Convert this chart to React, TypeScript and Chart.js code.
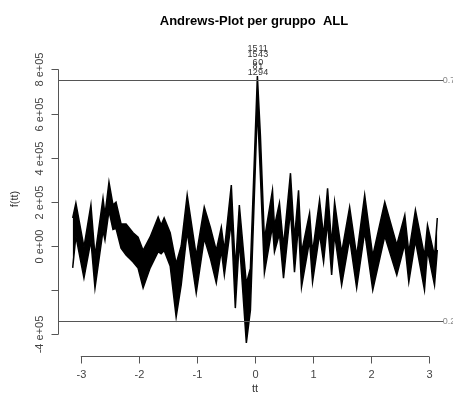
import React, { useEffect, useRef } from "react";
import { Chart, registerables } from "chart.js";

Chart.register(...registerables);

// Curve band (envelope of all Andrews curves)
const tValues = [
  -3.14, -3.085, -2.946, -2.826, -2.756, -2.618, -2.584, -2.515, -2.446, -2.394,
  -2.307, -2.221, -2.1, -2.014, -1.927, -1.807, -1.668, -1.617, -1.565, -1.461,
  -1.358, -1.271, -1.168, -1.012, -0.874, -0.77, -0.667, -0.58, -0.528, -0.408,
  -0.339, -0.27, -0.149, -0.079, 0.041, 0.093, 0.162, 0.301, 0.335, 0.421,
  0.491, 0.611, 0.68, 0.75, 0.801, 0.94, 0.991, 1.112, 1.181, 1.25,
  1.32, 1.371, 1.492, 1.63, 1.751, 1.889, 2.028, 2.235, 2.442, 2.58,
  2.649, 2.763, 2.919, 2.971, 3.092, 3.14,
];
const upperValues = [
  127000, 195000, -5000, 186000, -45000, 217000, 140000, 290000, 186000, 199000,
  100000, 100000, 60000, 40000, -20000, 40000, 131000, 95000, 127000, 60000,
  -80000, 0, 231000, -45000, 176000, 85000, -20000, 86000, -20000, 276000,
  -105000, 186000, -170000, -100000, 770000, 500000, 30000, 253000, 90000, 195000,
  0, 330000, 30000, 253000, -30000, 149000, -30000, 208000, 45000, 262000,
  5000, 199000, -30000, 177000, -45000, 231000, -45000, 199000, 5000, 140000,
  -30000, 163000, -45000, 95000, -45000, 127000,
];
const lowerValues = [
  -99000, 45000, -145000, 25000, -190000, 70000, 27000, 160000, 75000, 80000,
  -10000, -41000, -72000, -100000, -190000, -100000, -25000, -35000, -20000, -90000,
  -321000, -176000, 65000, -213000, 35000, -55000, -167000, -20000, -131000, 110000,
  -281000, 25000, -439000, -290000, 630000, 320000, -122000, 90000, -27000, 55000,
  -145000, 160000, -118000, 100000, -186000, 25000, -163000, 55000, -72000, 110000,
  -131000, 55000, -177000, 35000, -190000, 65000, -199000, 45000, -131000, 10000,
  -163000, 25000, -199000, -20000, -177000, -18000,
];

// Axes
const xTicks = [-3, -2, -1, 0, 1, 2, 3];
const yTicks = [800000, 600000, 400000, 200000, 0, -200000, -400000];
const yTickLabels = ["8 e+05", "6 e+05", "4 e+05", "2 e+05", "0 e+00", "", "-4 e+05"];
const xRange = [-3.393, 3.393];
const yRange = [-498000, 820000];

// Reference lines (quantiles)
const refValues = [751000, -339000];
const refLabels = ["0.75", "0.25"];

// Observation labels stacked at the peak
const peakLabels = ["15", "11", "15", "43", "6", "0", "8", "1", "12", "94"];
const peakLabelT = [-0.045, 0.14, -0.045, 0.14, 0.0, 0.1, 0.0, 0.1, -0.04, 0.14];
const peakLabelValues = [896000, 896000, 869000, 869000, 833000, 833000, 815000, 815000, 787000, 787000];

const TITLE = "Andrews-Plot per gruppo  ALL";
const X_LABEL = "tt";
const Y_LABEL = "f(tt)";

const FONT = "'Liberation Sans', Arial, Helvetica, sans-serif";

export default function App() {
  const ref = useRef<HTMLCanvasElement | null>(null);

  useEffect(() => {
    if (!ref.current) return;
    const rPlot = {
      id: "rPlot",
      afterDraw(chart: any) {
        const ctx = chart.ctx as CanvasRenderingContext2D;
        const xs = chart.scales.x;
        const ys = chart.scales.y;
        const area = chart.chartArea;
        ctx.save();
        // reference lines
        ctx.strokeStyle = "#555";
        ctx.lineWidth = 1;
        refValues.forEach((v, i) => {
          const y = Math.round(ys.getPixelForValue(v)) + 0.5;
          const xEnd = xs.getPixelForValue(3.25);
          ctx.beginPath();
          ctx.moveTo(area.left, y);
          ctx.lineTo(xEnd, y);
          ctx.stroke();
          ctx.fillStyle = "#888";
          ctx.font = `9px ${FONT}`;
          ctx.textAlign = "left";
          ctx.textBaseline = "middle";
          ctx.fillText(refLabels[i], xEnd - 1, y);
        });
        // peak labels
        ctx.fillStyle = "#333";
        ctx.font = `9px ${FONT}`;
        ctx.textAlign = "center";
        ctx.textBaseline = "middle";
        peakLabels.forEach((s, i) => {
          ctx.fillText(s, xs.getPixelForValue(peakLabelT[i]), ys.getPixelForValue(peakLabelValues[i]));
        });
        // x axis
        ctx.strokeStyle = "#555";
        const yAxis = Math.round(area.bottom) + 0.5;
        ctx.beginPath();
        ctx.moveTo(xs.getPixelForValue(xTicks[0]), yAxis);
        ctx.lineTo(xs.getPixelForValue(xTicks[xTicks.length - 1]), yAxis);
        ctx.stroke();
        ctx.fillStyle = "#444";
        ctx.font = `11px ${FONT}`;
        ctx.textAlign = "center";
        ctx.textBaseline = "middle";
        xTicks.forEach((t) => {
          const x = Math.round(xs.getPixelForValue(t)) + 0.5;
          ctx.beginPath();
          ctx.moveTo(x, yAxis);
          ctx.lineTo(x, yAxis + 7);
          ctx.stroke();
          ctx.fillText(String(t), x, 375);
        });
        // y axis
        const xAxis = Math.round(area.left) + 0.5;
        ctx.beginPath();
        ctx.moveTo(xAxis, ys.getPixelForValue(yTicks[0]));
        ctx.lineTo(xAxis, ys.getPixelForValue(yTicks[yTicks.length - 1]));
        ctx.stroke();
        yTicks.forEach((v, i) => {
          const y = Math.round(ys.getPixelForValue(v)) + 0.5;
          ctx.beginPath();
          ctx.moveTo(xAxis - 7, y);
          ctx.lineTo(xAxis, y);
          ctx.stroke();
          if (yTickLabels[i]) {
            ctx.save();
            ctx.translate(40, y);
            ctx.rotate(-Math.PI / 2);
            ctx.fillText(yTickLabels[i], 0, 0);
            ctx.restore();
          }
        });
        // axis titles
        ctx.fillStyle = "#333";
        ctx.fillText(X_LABEL, 255, 389);
        ctx.save();
        ctx.translate(15, 199);
        ctx.rotate(-Math.PI / 2);
        ctx.fillText(Y_LABEL, 0, 0);
        ctx.restore();
        // title
        ctx.fillStyle = "#000";
        ctx.font = `bold 13px ${FONT}`;
        ctx.fillText(TITLE, 254, 21);
        ctx.restore();
      },
    };

    const chart = new Chart(ref.current, {
      type: "line",
      data: {
        datasets: [
          {
            label: "lower",
            data: tValues.map((t, i) => ({ x: t, y: lowerValues[i] })),
            borderColor: "#000",
            borderWidth: 1.5,
            pointRadius: 0,
            fill: false,
          },
          {
            label: "upper",
            data: tValues.map((t, i) => ({ x: t, y: upperValues[i] })),
            borderColor: "#000",
            borderWidth: 1.5,
            pointRadius: 0,
            backgroundColor: "#000",
            fill: "-1",
          },
        ],
      },
      options: {
        animation: false,
        responsive: false,
        devicePixelRatio: 1,
        layout: { padding: { left: 58, right: 1, top: 65, bottom: 44 } },
        plugins: { legend: { display: false }, tooltip: { enabled: false }, title: { display: false } },
        scales: {
          x: { type: "linear", min: xRange[0], max: xRange[1], display: false },
          y: { type: "linear", min: yRange[0], max: yRange[1], display: false },
        },
      },
      plugins: [rPlot],
    });
    return () => chart.destroy();
  }, []);

  return (
    <div style={{ position: "fixed", left: 0, top: 0, width: 453, height: 400, background: "#fff" }}>
      <canvas ref={ref} width={453} height={400} style={{ width: 453, height: 400, display: "block" }} />
    </div>
  );
}
